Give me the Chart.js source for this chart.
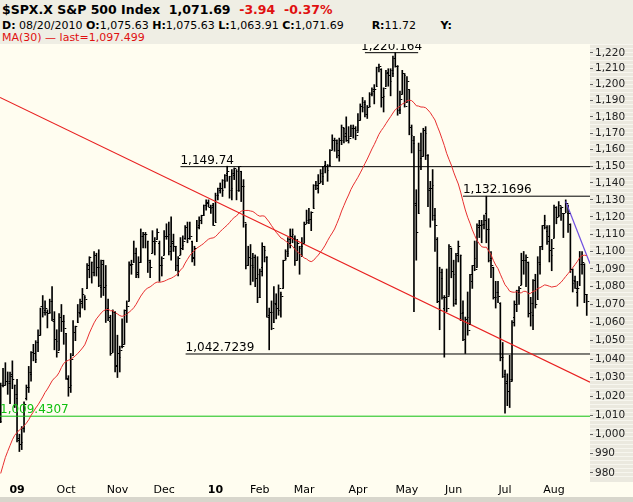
<!DOCTYPE html>
<html><head><meta charset="utf-8">
<script src="https://cdn.jsdelivr.net/npm/chart.js@4"></script>
<style>
html,body{margin:0;padding:0;background:#fffdf0;}
#wrap{position:relative;width:633px;height:502px;}
#hdr{position:absolute;left:0;top:0;width:633px;height:44px;background:#efeee4;font-family:"DejaVu Sans",Tahoma,sans-serif;}
#hdr div{position:absolute;left:2px;white-space:pre;}
canvas{position:absolute;left:0;top:0;}
</style></head><body>
<div id="wrap">
<canvas id="c" width="633" height="502"></canvas>
<div id="hdr">
<div style="top:2px;font-size:12.5px;font-weight:bold;">$SPX.X S&amp;P 500 Index  1,071.69  <span style="color:#e01010">-3.94  -0.37%</span></div>
<div style="top:19px;font-size:11px;"><b>D:</b> 08/20/2010 <b>O:</b>1,075.63 <b>H:</b>1,075.63 <b>L:</b>1,063.91 <b>C:</b>1,071.69        <b>R:</b>11.72       <b>Y:</b></div>
<div style="top:31px;font-size:11px;color:#e01010;">MA(30) — last=1,097.499</div>
</div>
</div>
<script>
// Trading days from Aug 21 2009 to Aug 20 2010 (index 0 = Aug 21 2009)
const opens=[1007,1026,1026,1027,1027,1032,1026,
1019,997,996,1003,1019,1025,1032,1044,1040,1049,1053,1068,1067,1066,1066,1072,1062,1050,1045,1063,1061,
1054,1029,1026,1042,1055,1060,1065,1071,1074,1079,1090,1094,1088,1098,1091,1080,1095,1081,1068,1061,1044,1066,
1037,1041,1047,1048,1065,1072,1092,1094,1099,1088,1094,1109,1110,1106,1094,1099,1105,1107,1105,1092,
1098,1109,1110,1103,1105,1103,1092,1098,1104,1108,1114,1108,1106,1097,1106,1115,1118,1121,1127,1129,1125,1127,
1117,1133,1136,1136,1141,1146,1144,1137,1145,1147,1136,1147,1138,1116,1092,1096,1091,1097,1087,
1074,1091,1101,1097,1064,1066,1060,1070,1067,1076,1079,1096,1099,1105,1110,1107,1095,1102,1103,
1105,1117,1119,1119,1125,1139,1137,1141,1144,1151,1148,1151,1160,1166,1164,1157,1166,1173,1170,1168,1168,1173,1172,
1171,1178,1186,1188,1182,1187,1195,1196,1199,1211,1210,1193,1199,1208,1202,1207,1217,1212,1185,1194,1206,
1189,1197,1169,1164,1127,1122,1155,1156,1170,1157,1137,1139,1119,1107,1067,1085,1068,1075,1075,1102,
1087,1073,1099,1098,1066,1051,1063,1059,1083,1096,1091,1114,1115,1116,1122,1113,1096,1091,1074,1077,1071,1041,
1032,1028,1029,1029,1063,1070,1077,1081,1095,1095,1094,1066,1064,1084,1073,1093,1103,1118,1112,1109,1098,
1108,1126,1121,1125,1122,1123,1122,1116,1082,1083,1077,1081,1093,1093,1075.63];
const highs=[1027,1035,1038,1033,1033,1039,1026,
1029,1000,1004,1017,1026,1036,1044,1048,1050,1056,1068,1075,1072,1067,1073,1080,1066,1056,1065,1070,1064,
1054,1031,1043,1061,1058,1070,1073,1079,1075,1093,1097,1094,1100,1099,1101,1095,1095,1092,1073,1064,1067,1066,
1053,1047,1062,1067,1072,1094,1095,1106,1102,1097,1113,1111,1111,1106,1095,1112,1108,1113,1106,1097,
1112,1116,1117,1120,1110,1103,1097,1108,1109,1115,1117,1117,1106,1103,1118,1120,1121,1127,1130,1130,1127,1128,
1134,1137,1140,1142,1145,1150,1144,1148,1149,1148,1149.74,1147,1142,1116,1103,1104,1099,1098,1097,
1090,1105,1103,1097,1068,1072,1080,1076,1081,1077,1095,1101,1108,1113,1113,1109,1107,1103,1108,
1117,1124,1125,1123,1139,1141,1145,1148,1150,1153,1151,1160,1169,1167,1166,1167,1175,1173,1180,1174,1175,1175,1174,
1182,1188,1192,1190,1187,1195,1198,1200,1211,1213,1210,1198,1209,1210,1210,1218,1220.16,1212,1196,1209,1207,
1205,1197,1175,1168,1136,1164,1170,1173,1174,1157,1141,1148,1125,1108,1091,1090,1075,1090,1104,1102,
1095,1099,1106,1098,1072,1063,1077,1087,1092,1106,1116,1118,1118,1121,1132.17,1119,1100,1091,1083,1083,1071,1049,
1034,1032,1042,1061,1072,1078,1080,1099,1100,1098,1094,1074,1084,1087,1097,1103,1115,1121,1115,1115,1107,
1127,1126,1129,1126,1122,1130,1127,1116,1090,1086,1083,1100,1100,1093,1075.63];
const lows=[1006,1025,1026,1021,1016,1024,1014,
996,991,992,1001,1018,1022,1028,1039,1038,1044,1053,1063,1064,1057,1065,1061,1045,1041,1045,1055,1048,
1029,1020,1022,1042,1050,1060,1063,1068,1067,1079,1085,1082,1086,1086,1080,1074,1075,1060,1061,1042,1044,1033,
1030,1033,1046,1048,1060,1072,1087,1094,1085,1085,1094,1102,1102,1088,1085,1099,1098,1107,1083,1086,
1098,1107,1098,1095,1100,1089,1086,1098,1101,1107,1105,1107,1094,1092,1106,1113,1116,1121,1124,1126,1122,1115,
1117,1130,1134,1132,1137,1141,1131,1130,1142,1130,1135,1129,1114,1090,1092,1081,1083,1080,1071,
1074,1086,1094,1063,1045,1056,1060,1062,1064,1063,1079,1095,1097,1102,1105,1092,1095,1087,1097,
1105,1116,1116,1112,1125,1136,1134,1140,1139,1146,1141,1150,1160,1159,1155,1153,1163,1164,1165,1164,1168,1167,1166,
1171,1178,1183,1180,1179,1186,1193,1188,1199,1208,1186,1183,1199,1199,1193,1205,1211,1181,1182,1194,1186,
1189,1169,1158,1066,1095,1122,1148,1156,1154,1126,1114,1118,1100,1071,1056,1073,1041,1066,1075,1085,
1069,1070,1094,1061,1050,1043,1053,1059,1079,1089,1091,1108,1105,1113,1105,1094,1085,1073,1068,1071,1039,1030,
1011,1015,1014,1028,1058,1066,1070,1081,1087,1080,1063,1058,1056,1068,1073,1087,1101,1113,1104,1094,1089,
1108,1116,1120,1118,1108,1123,1111,1088,1077,1079,1069,1081,1087,1071,1063.91];
const closes=[1026,1026,1028,1028,1031,1029,1021,
998,995,1003,1016,1025,1033,1044,1043,1049,1053,1069,1066,1068,1065,1072,1061,1051,1044,1063,1061,1057,
1030,1025,1040,1055,1058,1066,1072,1076,1073,1092,1097,1088,1098,1091,1081,1093,1080,1067,1063,1043,1066,1036,
1043,1045,1047,1067,1069,1093,1093,1099,1087,1094,1109,1110,1110,1095,1091,1106,1106,1111,1092,1096,
1109,1109,1100,1106,1103,1092,1096,1102,1106,1114,1108,1109,1096,1102,1114,1118,1121,1127,1128,1126,1126,1115,
1133,1137,1137,1142,1145,1147,1136,1146,1149,1136,1150,1138,1117,1092,1097,1092,1097,1085,1074,
1089,1103,1097,1063,1066,1057,1071,1068,1079,1075,1095,1100,1107,1109,1108,1095,1105,1103,1105,
1116,1118,1119,1123,1139,1139,1140,1146,1150,1150,1151,1160,1166,1166,1160,1166,1174,1168,1166,1167,1173,1173,1169,
1178,1187,1189,1182,1186,1194,1197,1197,1211,1212,1192,1198,1207,1206,1209,1217,1212,1184,1191,1207,1187,
1202,1174,1166,1128,1111,1160,1156,1172,1157,1136,1137,1121,1115,1072,1088,1074,1074,1068,1103,1089,
1071,1098,1103,1065,1051,1062,1056,1087,1092,1090,1115,1115,1116,1118,1113,1095,1092,1074,1077,1075,1041,1031,
1027,1023,1028,1060,1070,1078,1079,1095,1095,1097,1065,1071,1084,1070,1094,1103,1115,1114,1106,1101,1102,
1126,1120,1127,1126,1122,1128,1122,1090,1084,1079,1079,1093,1094,1076,1071.69];
// 30 closes before Aug 21 2009 (Jul 10 - Aug 20 2009), used for the MA(30)
const warmupCloses=[879,901,906,933,941,940,951,955,954,976,979,982,980,975,987,988,1003,1006,1003,997,1011,1007,994,1006,1013,1004,980,990,997,1007];
const monthTickIdx=[7,28,50,70,92,111,130,153,174,194,216,237];
const monthTickLabels=['09','Oct','Nov','Dec','10','Feb','Mar','Apr','May','Jun','Jul','Aug'];
const yTicks=[980,990,1000,1010,1020,1030,1040,1050,1060,1070,1080,1090,1100,1110,1120,1130,1140,1150,1160,1170,1180,1190,1200,1210,1220];
// annotation levels
const levelLines=[
 {v:1220.164,from:156,label:'1,220.164',color:'#000',center:true},
 {v:1149.74,from:77,label:'1,149.74',color:'#000'},
 {v:1132.1696,from:198,label:'1,132.1696',color:'#000'},
 {v:1042.7239,from:79.2,label:'1,042.7239',color:'#000'},
 {v:1009.4307,from:-0.3,label:'1,009.4307',color:'#10c010'}];
const trendLine=[{x:-0.3,y:1192},{x:252.4,y:1027.5}];
const purpleLine=[{x:242,y:1129},{x:252.4,y:1093}];
const XMIN=-0.3,XMAX=252.4;

const all=warmupCloses.concat(closes);
const ma=closes.map((c,i)=>{let s=0;for(let k=i;k<i+30;k++)s+=all[k+1];return {x:i,y:s/30};});
const hl=closes.map((c,i)=>({x:i,y:[lows[i],highs[i]]}));

const datasets=[
 {type:'bar',data:hl,backgroundColor:'#000',barThickness:1,grouped:false,order:2},
 {type:'line',data:ma,borderColor:'#e83030',borderWidth:1,pointRadius:0,order:1},
 {type:'line',data:trendLine,borderColor:'#e82020',borderWidth:1.2,pointRadius:0,order:1},
 {type:'line',data:purpleLine,borderColor:'#7050e0',borderWidth:1.2,pointRadius:0,order:1}];
levelLines.forEach(l=>{
 const to=l.center?178.8:XMAX;
 datasets.push({type:'line',data:[{x:l.from,y:l.v},{x:to,y:l.v}],borderColor:l.color,borderWidth:1,pointRadius:0,order:1});
});

const deco={id:'deco',
 beforeDraw(ch){const {ctx,chartArea:a}=ch;ctx.save();
  ctx.fillStyle='#fffdf0';ctx.fillRect(0,0,633,502);
  ctx.fillStyle='#ebe9df';ctx.fillRect(a.right,0,633-a.right,a.bottom+2);
  ctx.strokeStyle='#f7f6ef';ctx.lineWidth=1;
  for(let y=0;y<a.bottom;y+=4){ctx.beginPath();ctx.moveTo(a.right,y+0.5);ctx.lineTo(633,y+0.5);ctx.stroke();}
  ctx.fillStyle='#d8d6cc';ctx.fillRect(0,497,633,5);
  ctx.restore();},
 afterDatasetsDraw(ch){const {ctx,chartArea:a}=ch;const xs=ch.scales.x,ys=ch.scales.y;
  ctx.save();ctx.beginPath();ctx.rect(a.left,a.top,a.right-a.left,a.bottom-a.top);ctx.clip();
  ctx.strokeStyle='#000';ctx.lineWidth=1;
  closes.forEach((c,i)=>{const x=Math.round(xs.getPixelForValue(i))+0.5;
   const yo=Math.round(ys.getPixelForValue(opens[i]))+0.5,yc=Math.round(ys.getPixelForValue(c))+0.5;
   ctx.beginPath();ctx.moveTo(x-1.5,yo);ctx.lineTo(x,yo);ctx.moveTo(x,yc);ctx.lineTo(x+1.8,yc);ctx.stroke();});
  ctx.font='12px "DejaVu Sans", sans-serif';ctx.textBaseline='bottom';
  levelLines.forEach(l=>{ctx.fillStyle=l.color;const y=ys.getPixelForValue(l.v);
   let x=xs.getPixelForValue(l.from);
   if(l.center){ctx.textAlign='center';x=(x+xs.getPixelForValue(178.8))/2;}else ctx.textAlign='left';
   ctx.fillText(l.label,Math.max(x,0),y);});
  ctx.restore();}};

new Chart(document.getElementById('c'),{
 data:{datasets},
 plugins:[deco],
 options:{responsive:false,animation:false,
  layout:{padding:{top:44,left:0,right:0,bottom:0}},
  plugins:{legend:{display:false},tooltip:{enabled:false}},
  scales:{
   x:{type:'linear',min:XMIN,max:XMAX,offset:false,
    grid:{display:false,drawTicks:false},border:{display:false},
    afterBuildTicks(s){s.ticks=monthTickIdx.map(v=>({value:v}));},
    afterFit(s){s.height=22;},
    ticks:{autoSkip:false,maxRotation:0,padding:4,color:'#000',
     callback:(v)=>monthTickLabels[monthTickIdx.indexOf(v)],
     font:(c)=>({family:'"DejaVu Sans", sans-serif',size:11,weight:(c.tick&&(c.tick.value===7||c.tick.value===92))?'bold':'normal'})}},
   y:{type:'logarithmic',position:'right',min:976.4,max:1225.7,
    grid:{drawOnChartArea:false,drawTicks:true,tickLength:3,color:'#666'},border:{display:false},
    afterBuildTicks(s){s.ticks=yTicks.map(v=>({value:v}));},
    afterFit(s){s.width=43;},
    ticks:{autoSkip:false,padding:2,color:'#222',font:{family:'"DejaVu Sans", sans-serif',size:10.5},
     callback:(v)=>v.toLocaleString('en-US')}}}}
});
</script></body></html>
